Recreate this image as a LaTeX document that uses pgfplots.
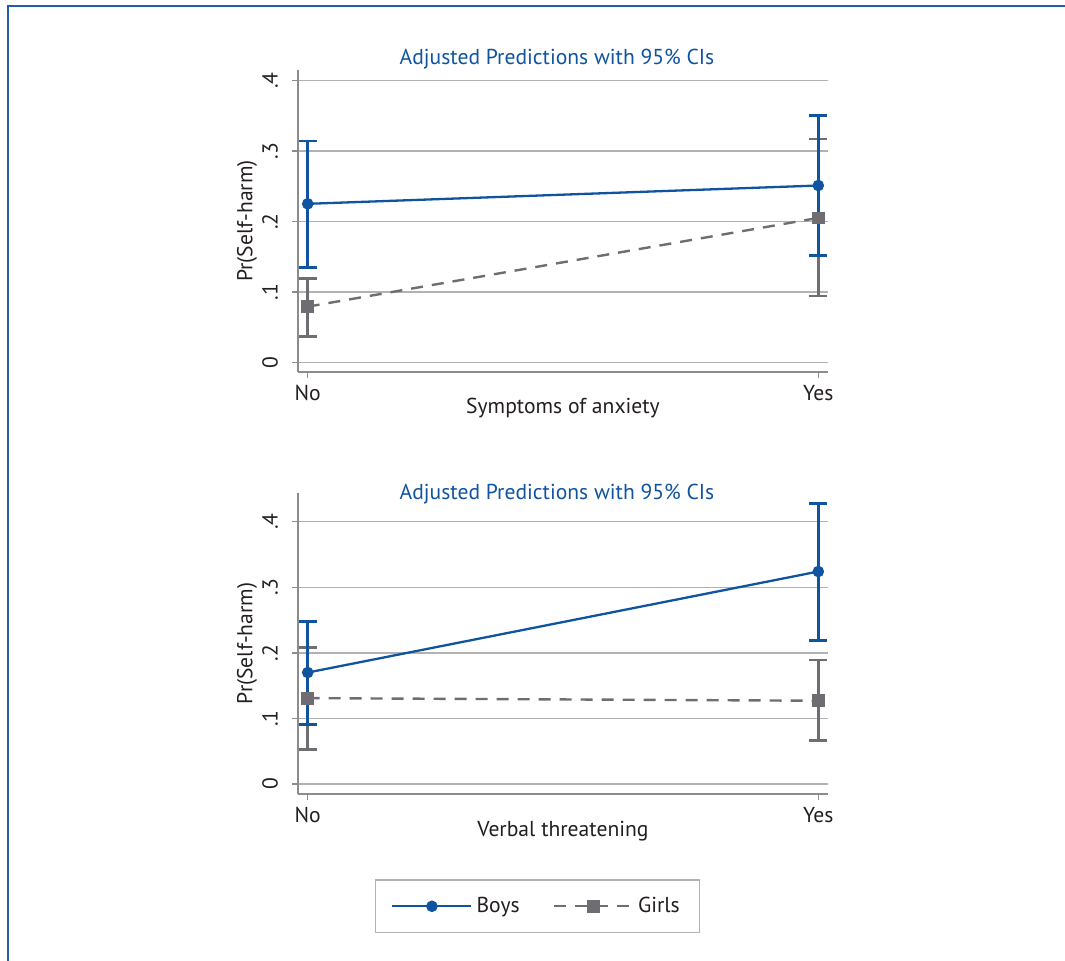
\documentclass[border=0pt]{standalone}
\usepackage{fontspec}
\setmainfont{PT Sans}
\usepackage{pgfplots}
\usepackage{pgfplotstable}
\pgfplotsset{compat=1.18}
\definecolor{sblue}{RGB}{16,84,160}
\definecolor{sgray}{RGB}{110,110,114}
\definecolor{gridc}{RGB}{178,178,178}
\definecolor{axc}{RGB}{140,140,140}
\definecolor{framec}{RGB}{30,95,168}
\definecolor{txt}{RGB}{35,31,32}

\pgfplotstableread{
x y lo hi
0 0.225 0.135 0.314
1 0.251 0.152 0.350
}\topboys
\pgfplotstableread{
x y lo hi
0 0.079 0.037 0.119
1 0.205 0.094 0.317
}\topgirls
\pgfplotstableread{
x y lo hi
0 0.170 0.091 0.248
1 0.324 0.219 0.428
}\botboys
\pgfplotstableread{
x y lo hi
0 0.131 0.053 0.208
1 0.127 0.066 0.189
}\botgirls

\newcommand\fs{\fontsize{10.8}{13}\selectfont}
\pgfplotsset{
  stata/.style={
    scale only axis, width=265pt,
    axis lines*=left,
    xmin=-0.019, xmax=1.019,
    xtick={0,1}, xticklabels={No,Yes},
    ytick={0,0.1,0.2,0.3,0.4}, yticklabels={0,.1,.2,.3,.4},
    /pgf/number format/assume math mode=true,
    ticklabel style={font=\fs, text=txt},
    yticklabel style={rotate=90, anchor=south},
    yticklabel shift=3.5pt,
    ymajorgrids, grid style={gridc, line width=0.65pt},
    axis line style={axc, line width=0.65pt},
    tick style={axc, line width=0.65pt},
    tick align=outside, major tick length=3pt,
    ylabel={Pr(Self-harm)},
    ylabel style={at={(axis description cs:-0.096,0.5)}, rotate=0, anchor=center, font=\fs, text=txt},
    xlabel style={anchor=base, font=\fs, text=txt},
    title style={anchor=base, font=\fs, text=sblue},
    clip=false,
  },
  ci/.style={only marks, mark=none, forget plot,
    error bars/.cd, y dir=both, y explicit,
    error bar style={#1, line width=1.35pt},
    error mark options={#1, line width=1.35pt, mark size=4.5pt, rotate=90},
  },
  boys/.style={sblue, line width=1.15pt, mark=*, mark size=2.3pt, mark options={solid, fill=sblue}},
  girls/.style={sgray, line width=1.2pt, dash pattern=on 6pt off 4.5pt, mark=square*, mark size=2.6pt, mark options={solid, fill=sgray}},
  longleg/.style={legend image code/.code={\draw[mark repeat=2, mark phase=2, ##1] plot coordinates {(0pt,0pt)(19.75pt,0pt)(39.5pt,0pt)};}},
}

\begin{document}
\begin{tikzpicture}
\useasboundingbox (0,0) rectangle (532.5pt,-480pt);
\draw[framec, line width=1pt] (4pt,-481pt) -- (4pt,-2.75pt) -- (533pt,-2.75pt);

\begin{axis}[stata, at={(149pt,-186pt)}, anchor=south west, height=151pt,
  ymin=-0.0138, ymax=0.415,
  xlabel={Symptoms of anxiety},
  xlabel style={at={(axis description cs:0.5,-0.136)}},
  title={Adjusted Predictions with 95\% CIs},
  title style={at={(axis description cs:0.4887,1)}, yshift=-3pt},
]
\addplot[ci=sgray] table[x=x, y=y, y error plus expr=\thisrow{hi}-\thisrow{y}, y error minus expr=\thisrow{y}-\thisrow{lo}] {\topgirls};
\addplot[ci=sblue] table[x=x, y=y, y error plus expr=\thisrow{hi}-\thisrow{y}, y error minus expr=\thisrow{y}-\thisrow{lo}] {\topboys};
\addplot[girls] table[x=x, y=y] {\topgirls};
\addplot[boys] table[x=x, y=y] {\topboys};
\end{axis}

\begin{axis}[stata, at={(149pt,-397pt)}, anchor=south west, height=150.5pt,
  ymin=-0.0152, ymax=0.4437,
  xlabel={Verbal threatening},
  xlabel style={at={(axis description cs:0.5,-0.1395)}},
  title={Adjusted Predictions with 95\% CIs},
  title style={at={(axis description cs:0.4887,1)}, yshift=-9pt},
  legend columns=2,
  legend style={at={(axis description cs:0.452,-0.373)}, anchor=center,
    draw=gridc, line width=0.65pt, inner xsep=8pt, inner ysep=6.5pt,
    font=\fs, text=txt,
    /tikz/every even column/.append style={column sep=14.5pt}},
  legend cell align=left,
]
\addplot[ci=sgray] table[x=x, y=y, y error plus expr=\thisrow{hi}-\thisrow{y}, y error minus expr=\thisrow{y}-\thisrow{lo}] {\botgirls};
\addplot[ci=sblue] table[x=x, y=y, y error plus expr=\thisrow{hi}-\thisrow{y}, y error minus expr=\thisrow{y}-\thisrow{lo}] {\botboys};
\addplot[boys, longleg] table[x=x, y=y] {\botboys};
\addlegendentry{Boys}
\addplot[girls, longleg] table[x=x, y=y] {\botgirls};
\addlegendentry{Girls\hspace{9.5pt}}
\end{axis}
\end{tikzpicture}
\end{document}
